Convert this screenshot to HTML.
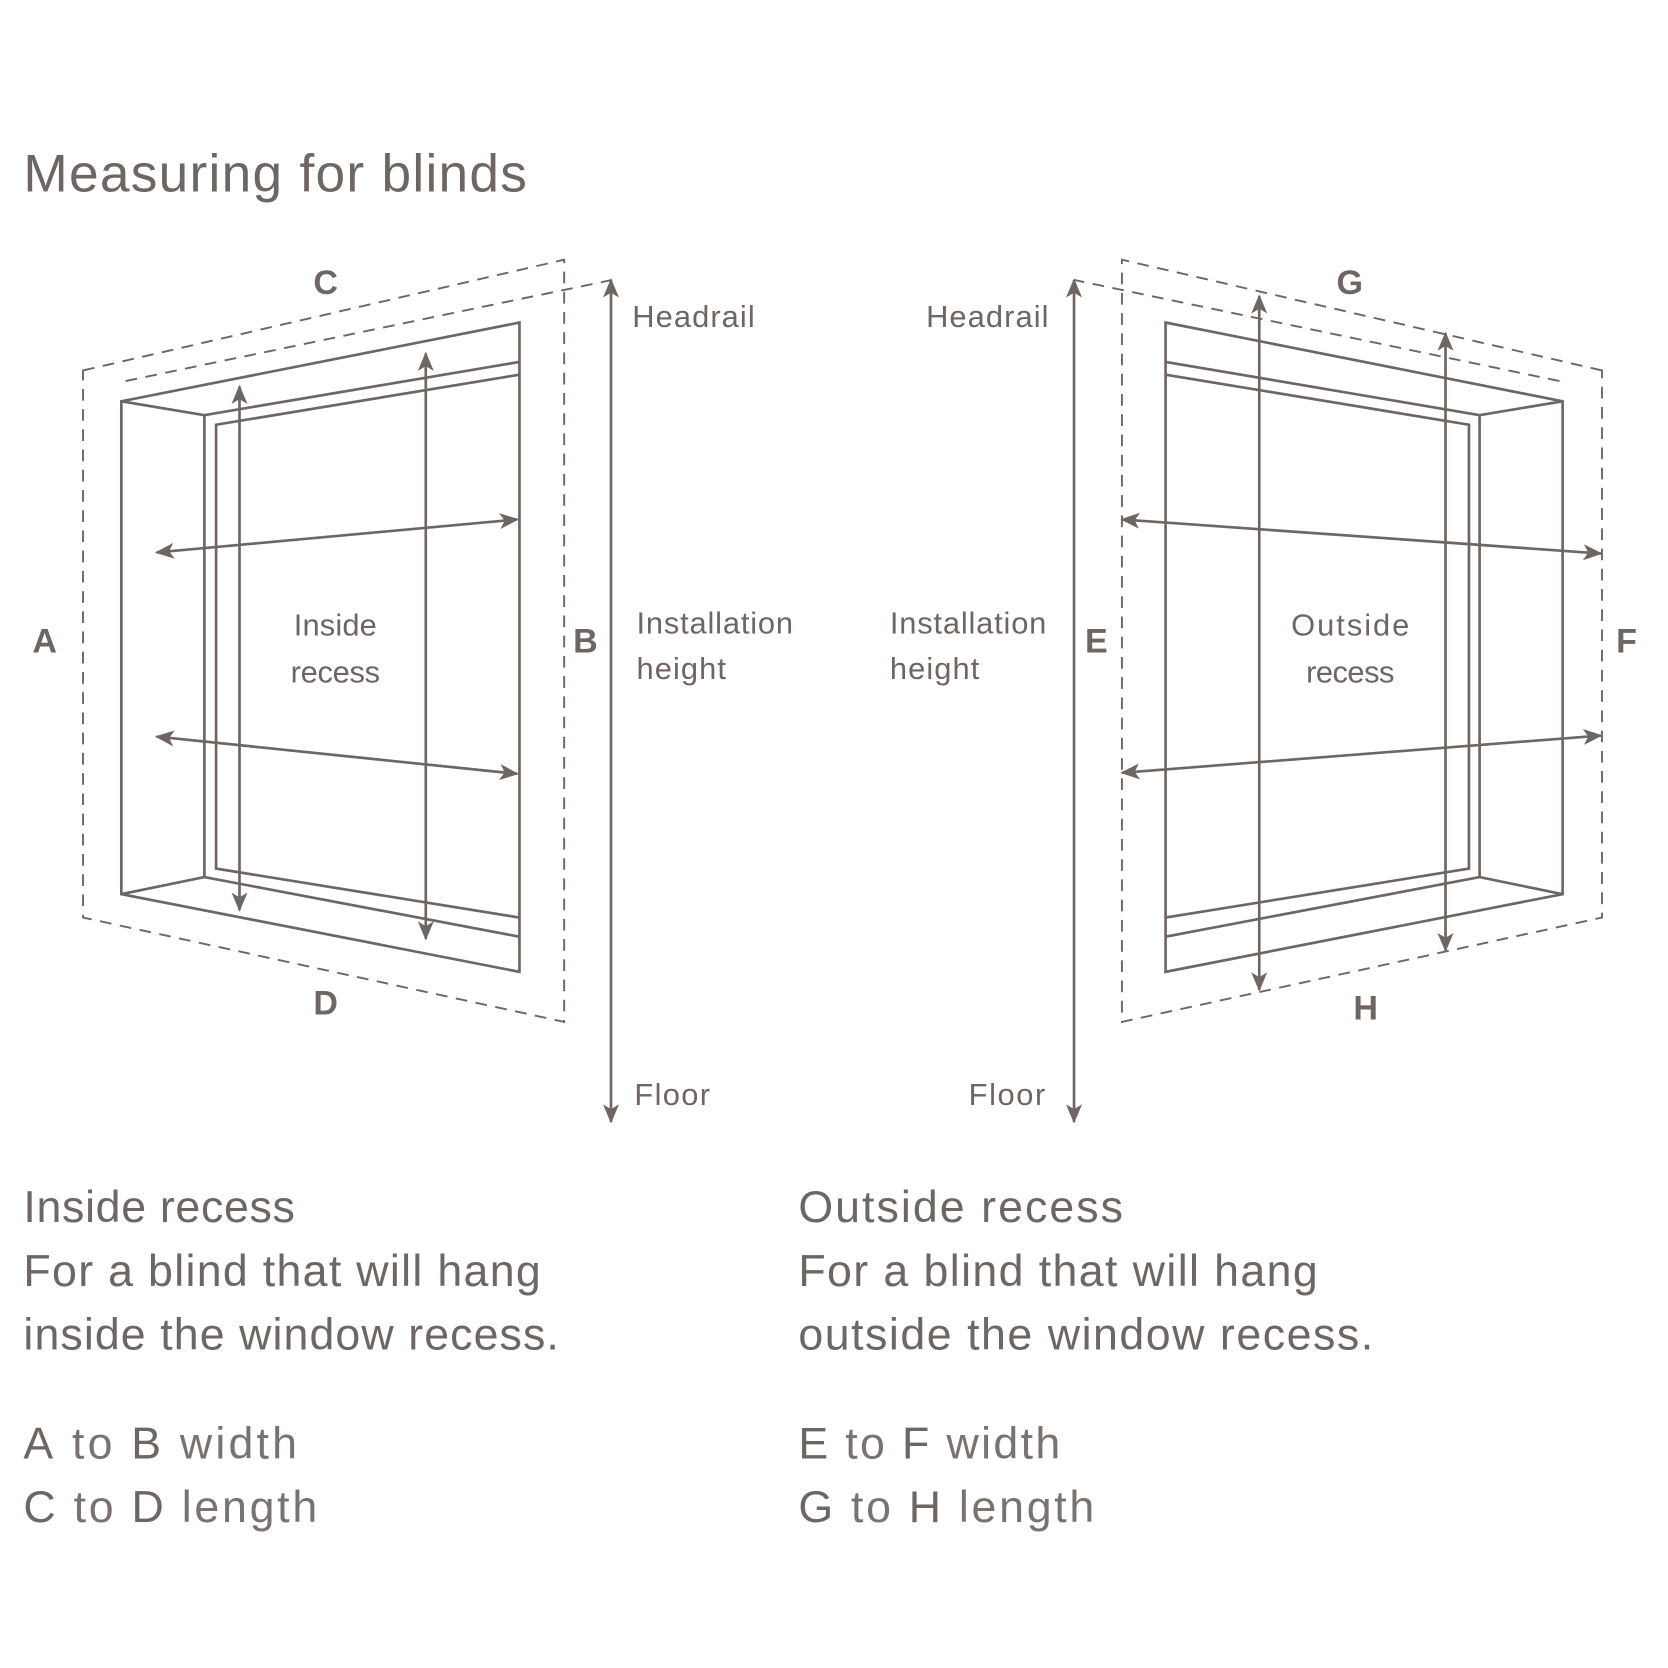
<!DOCTYPE html>
<html><head><meta charset="utf-8"><style>
html,body{margin:0;padding:0;background:#fff}
svg{display:block}
text{font-family:"Liberation Sans",sans-serif;fill:#6e6662}
</style></head><body>
<svg width="1668" height="1668" viewBox="0 0 1567 1567" xmlns="http://www.w3.org/2000/svg">
<defs>
<marker id="a" viewBox="0 0 12 12" refX="11" refY="6" markerWidth="18" markerHeight="18" orient="auto-start-reverse" markerUnits="userSpaceOnUse">
<path d="M0,1 L12,6 L0,11 L3,6 Z" fill="#6e6662"/></marker>
</defs>
<text x="22" y="180" font-size="50" textLength="473" lengthAdjust="spacing">Measuring for blinds</text>

<g fill="none" stroke="#6e6662">
<g stroke-width="1.8" stroke-dasharray="11 8">
<polygon points="78,348 530,244 530,960 78,862"/>
<line x1="118" y1="358" x2="575" y2="263"/>
</g>
<g stroke-width="2.5">
<polygon points="114,377 488,303 488,913 114,840"/>
<polyline points="114,377 192,390 488,340"/>
<polyline points="114,840 192,824 488,880"/>
<line x1="192" y1="390" x2="192" y2="824"/>
<polyline points="488,352 203,399 203,816 488,862"/>
<line x1="225" y1="363" x2="225" y2="855" marker-start="url(#a)" marker-end="url(#a)"/>
<line x1="400" y1="332" x2="400" y2="882" marker-start="url(#a)" marker-end="url(#a)"/>
<line x1="147" y1="519" x2="486" y2="488" marker-start="url(#a)" marker-end="url(#a)"/>
<line x1="147" y1="692" x2="486" y2="727" marker-start="url(#a)" marker-end="url(#a)"/>
<line x1="574" y1="263" x2="574" y2="1054" marker-start="url(#a)" marker-end="url(#a)"/>
</g>
<g stroke-width="1.8" stroke-dasharray="11 8">
<polygon points="1505,348 1054,244 1054,960 1505,862"/>
<line x1="1465" y1="358" x2="1009" y2="263"/>
</g>
<g stroke-width="2.5">
<polygon points="1468,377 1095,303 1095,913 1468,840"/>
<polyline points="1468,377 1390,390 1095,340"/>
<polyline points="1468,840 1390,824 1095,880"/>
<line x1="1390" y1="390" x2="1390" y2="824"/>
<polyline points="1095,352 1380,399 1380,816 1095,862"/>
<line x1="1183" y1="278" x2="1183" y2="930" marker-start="url(#a)" marker-end="url(#a)"/>
<line x1="1358" y1="313" x2="1358" y2="893" marker-start="url(#a)" marker-end="url(#a)"/>
<line x1="1054" y1="488" x2="1504" y2="520" marker-start="url(#a)" marker-end="url(#a)"/>
<line x1="1054" y1="726" x2="1504" y2="691" marker-start="url(#a)" marker-end="url(#a)"/>
<line x1="1009" y1="263" x2="1009" y2="1054" marker-start="url(#a)" marker-end="url(#a)"/>
</g>
</g>

<g font-weight="bold" font-size="32" text-anchor="middle">
<text x="306" y="276">C</text><text x="306" y="953">D</text>
<text x="42" y="613">A</text><text x="550" y="613">B</text>
<text x="1268" y="276">G</text><text x="1283" y="958">H</text>
<text x="1030" y="613">E</text><text x="1528" y="613">F</text>
</g>
<g font-size="29" fill="#7a726e" lengthAdjust="spacing">
<text x="276" y="597" textLength="78">Inside</text>
<text x="273" y="641" textLength="84">recess</text>
<text x="1213" y="597" textLength="111">Outside</text>
<text x="1227" y="641" textLength="83">recess</text>
<text x="594" y="307" textLength="115">Headrail</text>
<text x="598" y="595" textLength="147">Installation</text>
<text x="598" y="638" textLength="84">height</text>
<text x="596" y="1038" textLength="71">Floor</text>
<text x="870" y="307" textLength="115">Headrail</text>
<text x="836" y="595" textLength="147">Installation</text>
<text x="836" y="638" textLength="84">height</text>
<text x="910" y="1038" textLength="72">Floor</text>
</g>

<g font-size="42">
<text x="22" y="1148" textLength="255" lengthAdjust="spacing">Inside recess</text>
<text x="22" y="1208" fill="#7a726e" textLength="486" lengthAdjust="spacing">For a blind that will hang</text>
<text x="22" y="1268" fill="#7a726e" textLength="503" lengthAdjust="spacing">inside the window recess.</text>
<text x="22" y="1370" textLength="257" lengthAdjust="spacing"><tspan>A</tspan><tspan fill="#7a726e"> to </tspan><tspan>B</tspan><tspan fill="#7a726e"> width</tspan></text>
<text x="22" y="1430" textLength="276" lengthAdjust="spacing"><tspan>C</tspan><tspan fill="#7a726e"> to </tspan><tspan>D</tspan><tspan fill="#7a726e"> length</tspan></text>
<text x="750" y="1148" textLength="305" lengthAdjust="spacing">Outside recess</text>
<text x="750" y="1208" fill="#7a726e" textLength="488" lengthAdjust="spacing">For a blind that will hang</text>
<text x="750" y="1268" fill="#7a726e" textLength="540" lengthAdjust="spacing">outside the window recess.</text>
<text x="750" y="1370" textLength="246" lengthAdjust="spacing"><tspan>E</tspan><tspan fill="#7a726e"> to </tspan><tspan>F</tspan><tspan fill="#7a726e"> width</tspan></text>
<text x="750" y="1430" textLength="278" lengthAdjust="spacing"><tspan>G</tspan><tspan fill="#7a726e"> to </tspan><tspan>H</tspan><tspan fill="#7a726e"> length</tspan></text>
</g>
</svg>
</body></html>
